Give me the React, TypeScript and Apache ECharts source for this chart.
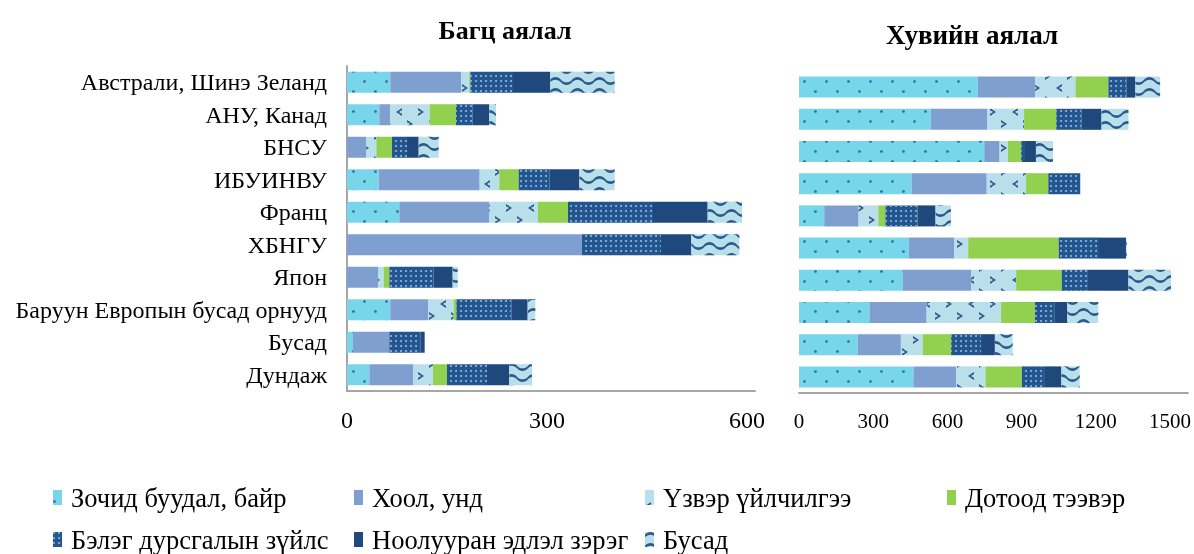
import React, { useEffect, useRef } from "react";
import * as echarts from "echarts";

const categories = [
  "Австрали, Шинэ Зеланд",
  "АНУ, Канад",
  "БНСУ",
  "ИБУИНВУ",
  "Франц",
  "ХБНГУ",
  "Япон",
  "Баруун Европын бусад орнууд",
  "Бусад",
  "Дундаж",
];

const seriesNames = [
  "Зочид буудал, байр",
  "Хоол, унд",
  "Үзвэр үйлчилгээ",
  "Дотоод тээвэр",
  "Бэлэг дурсгалын зүйлс",
  "Ноолууран эдлэл зэрэг",
  "Бусад",
];

// Багц аялал (package tours)
const pkgHotel = [65, 48.5, 0, 47.5, 78.5, 0, 0, 65, 9, 33.5];
const pkgFood = [106, 16.5, 29, 151.5, 135, 352.5, 46.5, 56.5, 54.5, 65.5];
const pkgAttraction = [12.5, 59, 15, 29.5, 73, 0, 8.5, 38.5, 0, 30];
const pkgTransport = [1.5, 39.5, 23.5, 29, 45, 0, 8.5, 4, 0, 21];
const pkgSouvenir = [64, 25, 22.5, 46.5, 127.5, 118.5, 66.5, 82.5, 46.5, 60];
const pkgCashmere = [56, 25, 17.5, 44.5, 82, 45.5, 28.5, 24.5, 6.5, 33.5];
const pkgOther = [96.5, 10, 30, 53, 51.5, 72, 7.5, 11.5, 0, 34];

// Хувийн аялал (individual tours)
const indHotel = [723, 533, 749, 455, 102, 444, 419, 285, 237, 463];
const indFood = [232, 229, 62, 304, 139, 183, 277, 231, 175, 172];
const indAttraction = [163, 148, 33, 159, 80, 57, 182, 301, 88, 119];
const indTransport = [133, 130, 54, 90, 28, 366, 184, 137, 115, 147];
const indSouvenir = [73, 102, 12, 129, 130, 163, 103, 78, 121, 90];
const indCashmere = [36, 81, 48, 0, 73, 109, 167, 53, 56, 70];
const indOther = [100, 109, 69, 0, 62, 3, 172, 125, 72, 74];

const leftTicks = [0, 300, 600];
const rightTicks = [0, 300, 600, 900, 1200, 1500];

const FONT = "'Liberation Serif', 'Times New Roman', serif";

const chevL = "path://M7,0 L0,5 L7,10 L7,7.2 L3.2,5 L7,2.8 Z";
const chevR = "path://M0,0 L7,5 L0,10 L0,7.2 L3.8,5 L0,2.8 Z";
const wave =
  "path://M0,3.5 C3,0 8,0 11,3.5 C14,7 19,7 22,3.5 L22,6.2 C19,9.7 14,9.7 11,6.2 C8,2.7 3,2.7 0,6.2 Z";

const styles = [
  {
    color: "#78D6EA",
    decal: {
      symbol: "circle",
      symbolSize: 0.9,
      color: "#2F6AA3",
      dashArrayX: [[3, 19], [0, 11, 3, 8]],
      dashArrayY: [3, 7],
    },
  },
  { color: "#7F9FD0" },
  {
    color: "#B9DFEA",
    decal: {
      symbol: [chevL, chevR],
      symbolSize: 1,
      symbolKeepAspect: false,
      color: "#2A5A8C",
      dashArrayX: [[6, 16], [0, 11, 6, 5]],
      dashArrayY: [8, 4],
    },
  },
  { color: "#92D050" },
  {
    color: "#23558F",
    decal: {
      symbol: "circle",
      symbolSize: 0.9,
      color: "#9EC3E6",
      dashArrayX: [2, 3],
      dashArrayY: [2, 3],
    },
  },
  { color: "#1F487C" },
  {
    color: "#B9DFEA",
    decal: {
      symbol: wave,
      symbolSize: 1,
      symbolKeepAspect: false,
      color: "#2A5A8C",
      dashArrayX: [22, 0],
      dashArrayY: [8, 3],
    },
  },
];

const pkgData = [pkgHotel, pkgFood, pkgAttraction, pkgTransport, pkgSouvenir, pkgCashmere, pkgOther];
const indData = [indHotel, indFood, indAttraction, indTransport, indSouvenir, indCashmere, indOther];

const legendPos = [
  { left: 53, top: 484 },
  { left: 354, top: 484 },
  { left: 645, top: 484 },
  { left: 947, top: 484 },
  { left: 53, top: 526 },
  { left: 354, top: 526 },
  { left: 645, top: 526 },
];

export default function App() {
  const ref = useRef<HTMLDivElement>(null);
  useEffect(() => {
    if (!ref.current) return;
    const chart = echarts.init(ref.current, null, { renderer: "svg" });

    const axisGray = { show: true, lineStyle: { color: "#A6A6A6", width: 2 } };

    const series: any[] = [];
    seriesNames.forEach((name, i) => {
      series.push({
        name,
        type: "bar",
        stack: "pkg",
        xAxisIndex: 0,
        yAxisIndex: 0,
        barWidth: 21,
        itemStyle: { ...styles[i] },
        data: pkgData[i],
      });
      series.push({
        name,
        type: "bar",
        stack: "ind",
        xAxisIndex: 1,
        yAxisIndex: 1,
        barWidth: 21,
        itemStyle: { ...styles[i] },
        data: indData[i],
      });
    });

    const option: any = {
      animation: false,
      textStyle: { fontFamily: FONT },
      grid: [
        { left: 347, top: 66, width: 408, height: 325 },
        { left: 799, top: 71, width: 395, height: 322 },
      ],
      xAxis: [
        {
          gridIndex: 0,
          type: "value",
          min: leftTicks[0],
          max: 612,
          interval: leftTicks[1] - leftTicks[0],
          axisLine: axisGray,
          axisTick: { show: false },
          splitLine: { show: false },
          axisLabel: {
            showMaxLabel: false,
            fontSize: 24,
            color: "#000",
            fontFamily: FONT,
            margin: 17,
            formatter: (v: number) => String(v),
          },
        },
        {
          gridIndex: 1,
          type: "value",
          min: rightTicks[0],
          max: 1572,
          interval: rightTicks[1] - rightTicks[0],
          axisLine: axisGray,
          axisTick: { show: false },
          splitLine: { show: false },
          axisLabel: {
            showMaxLabel: false,
            fontSize: 21,
            color: "#000",
            fontFamily: FONT,
            margin: 17,
            formatter: (v: number) => String(v),
          },
        },
      ],
      yAxis: [
        {
          gridIndex: 0,
          type: "category",
          inverse: true,
          data: categories,
          axisLine: axisGray,
          axisTick: { show: false },
          axisLabel: { fontSize: 24, color: "#000", fontFamily: FONT, margin: 20 },
        },
        {
          gridIndex: 1,
          type: "category",
          inverse: true,
          data: categories,
          axisLine: { show: false },
          axisTick: { show: false },
          axisLabel: { show: false },
        },
      ],
      legend: seriesNames.map((name, i) => ({
        data: [name],
        left: legendPos[i].left,
        top: legendPos[i].top,
        padding: 0,
        icon: "rect",
        itemWidth: 9,
        itemHeight: 15,
        textStyle: { fontSize: 26.5, color: "#000", fontFamily: FONT, padding: [0, 0, 0, 4] },
      })),
      graphic: [
        {
          type: "text",
          x: 505,
          y: 30,
          style: {
            text: "Багц аялал",
            fontSize: 26,
            fontWeight: "bold",
            fontFamily: FONT,
            fill: "#000",
            align: "center",
            verticalAlign: "middle",
          },
        },
        {
          type: "text",
          x: 972,
          y: 35,
          style: {
            text: "Хувийн аялал",
            fontSize: 27,
            fontWeight: "bold",
            fontFamily: FONT,
            fill: "#000",
            align: "center",
            verticalAlign: "middle",
          },
        },
      ],
      series,
    };
    chart.setOption(option);
    return () => chart.dispose();
  }, []);
  return (
    <div
      ref={ref}
      style={{ position: "fixed", left: 0, top: 0, width: 1194, height: 554 }}
    />
  );
}
